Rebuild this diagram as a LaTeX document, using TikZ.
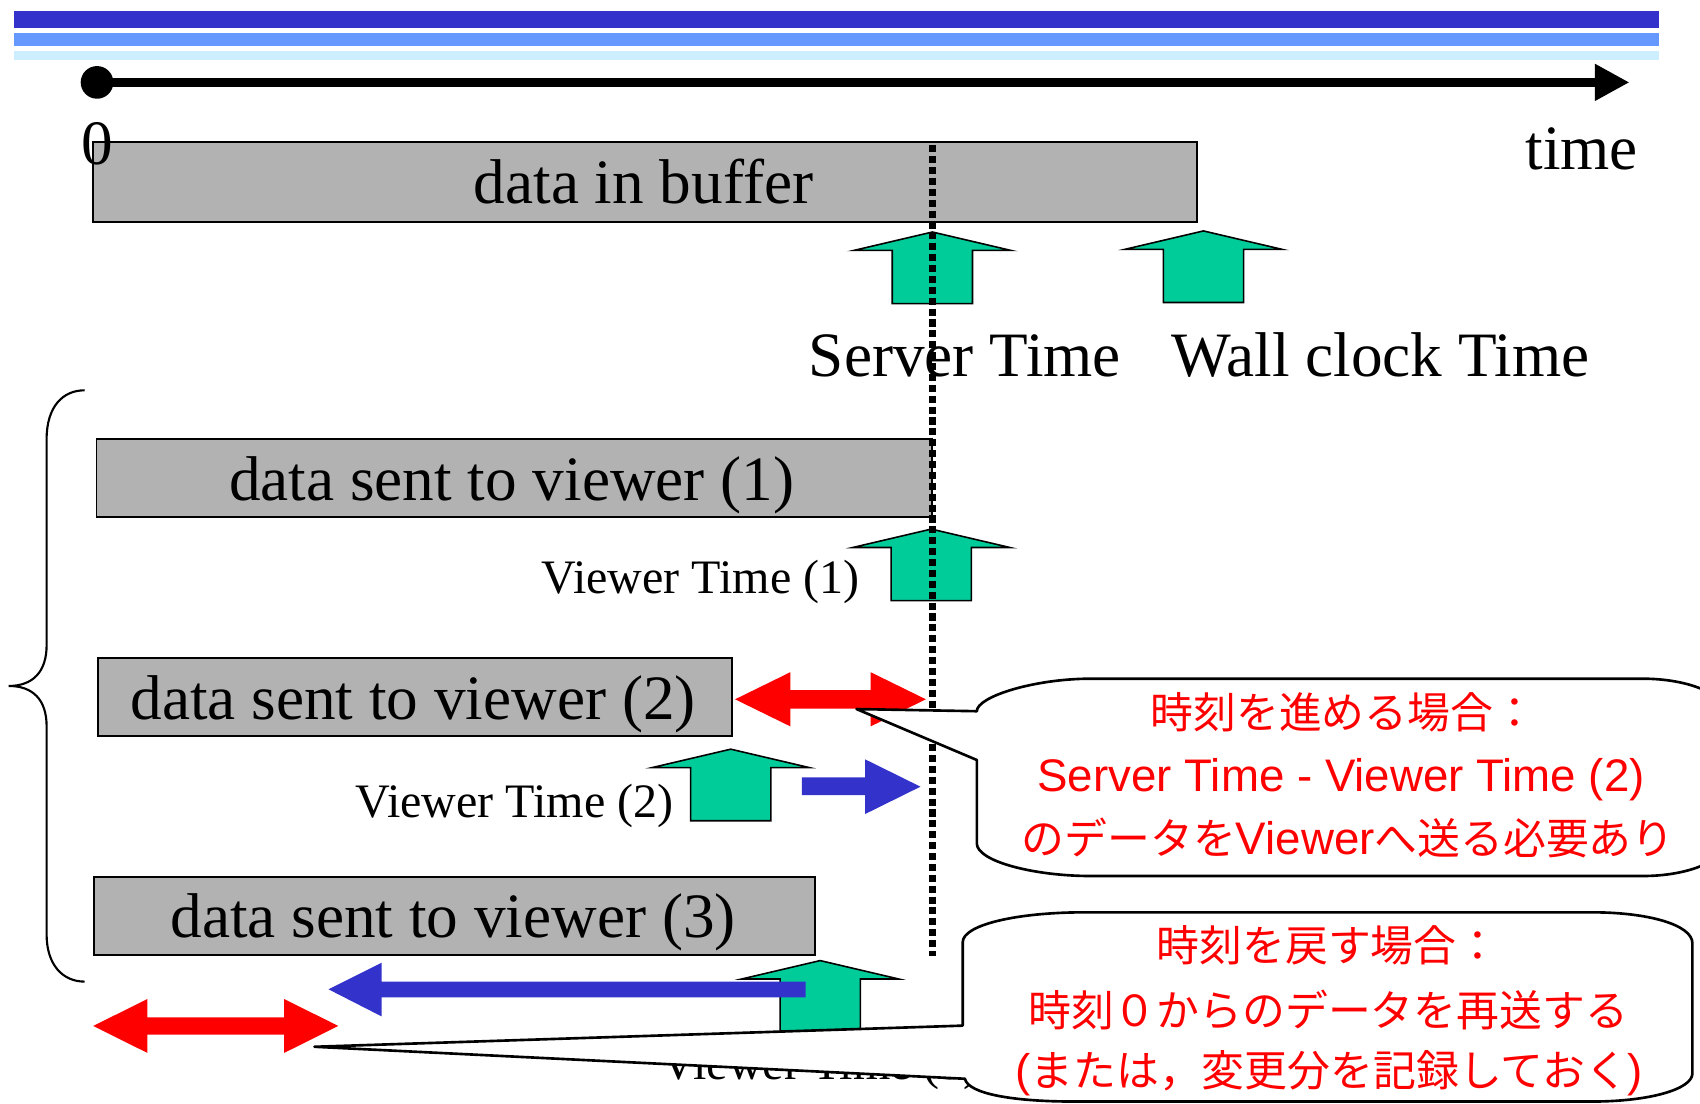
\documentclass[tikz,border=0pt]{standalone}
\usepackage{fontspec}
\setmainfont{Liberation Serif}
\newfontfamily\jpfont{Noto Sans CJK JP}
\newfontfamily\latsans{Liberation Sans}
\usetikzlibrary{arrows.meta,fit}
\definecolor{barA}{HTML}{3333CC}
\definecolor{barB}{HTML}{6699FF}
\definecolor{barC}{HTML}{CCEEFF}
\definecolor{boxgray}{HTML}{B2B2B2}
\definecolor{markgreen}{HTML}{00CC99}
\definecolor{shiftblue}{HTML}{3333CC}
\newcommand\jpt[1]{{\jpfont\fontsize{12.2}{14}\selectfont #1}}
\newcommand\lat[1]{{\latsans\fontsize{13.0}{14}\selectfont #1}}

\begin{document}
\begin{tikzpicture}[x=0.010842cm, y=-0.010842cm,
  databox/.style={draw=black, line width=0.55pt, fill=boxgray, inner sep=0pt},
  bigtxt/.style={font=\fontsize{18.0}{20}\selectfont, inner sep=0pt, anchor=base},
  vtxt/.style={font=\fontsize{13.68}{16}\selectfont, inner sep=0pt, anchor=base},
  notetxt/.style={text=red, inner sep=0pt, anchor=base},
  marker/.style={draw=black, line width=0.45pt, fill=markgreen},
  callout/.style={draw=black, line width=0.75pt, fill=white, line join=round},
  pics/upmark/.style={code={
    \path[marker] (0,0) -- (72.5,17) -- (37,17) -- (37,66) -- (-37,66)
      -- (-37,17) -- (-72.5,17) -- cycle;}},
]
\useasboundingbox (0,0) rectangle (1568,1018);
\clip (0,0) rectangle (1568,1018);

% header bars
\fill[barA] (12.5,10.1) rectangle (1530,25.5);
\fill[barB] (12.5,30.1) rectangle (1530,42.1);
\fill[barC] (12.5,46.7) rectangle (1530,55.3);

% time axis
\node[circle, fill=black, inner sep=0pt, minimum size=9.3pt] (t0) at (89.5,76) {};
\coordinate (tend) at (1503,76);
\draw[line width=2.56pt, -{Triangle[length=9.9pt,width=9.9pt]}] (t0.center) -- (tend);

% buffer
\node[databox, fit={(86,130.7) (1104,204.5)}] (buf) {};
\node[bigtxt, anchor=base west] (zero) at (74.5,152) {0};
\node[bigtxt] (buftxt) at (593.5,188) {data in buffer};
\node[bigtxt] (timetxt) at (1459,156) {time};

% time markers
\pic at (860,214) {upmark};
\pic at (1110,213) {upmark};
\node[bigtxt] (srvtxt) at (890,347) {Server Time};
\node[bigtxt] (walltxt) at (1273.5,347) {Wall clock Time};

% viewer data
\node[databox, fit={(89,405) (860,477)}] (v1) {};
\node[bigtxt] (v1txt) at (472,462) {data sent to viewer (1)};
\pic at (859,488) {upmark};
\node[vtxt] (vt1) at (646,547) {Viewer Time (1)};

\node[databox, fit={(90,607.2) (675,678.8)}] (v2) {};
\node[bigtxt] (v2txt) at (381,664) {data sent to viewer (2)};
\pic at (674,691) {upmark};
\node[vtxt] (vt2) at (474.5,754) {Viewer Time (2)};

\node[databox, fit={(87,808.6) (752,880.5)}] (v3) {};
\node[bigtxt] (v3txt) at (418,865) {data sent to viewer (3)};
\pic at (756.5,886) {upmark};

% brace grouping the viewers
\draw[line width=0.6pt] (78,360) .. controls (58,360) and (43,375) .. (43,405)
  -- (43,595) .. controls (43,620) and (30,632.7) .. (8,632.7)
  .. controls (30,632.7) and (43,645) .. (43,670)
  -- (43,862) .. controls (43,890) and (58,905.4) .. (78,905.4);

% server time line
\coordinate (dtop) at (860,134);
\coordinate (dbot) at (860,882);
\draw[line width=1.9pt, dash pattern=on 2pt off 1.1pt] (dtop) -- (dbot);

% offsets
\fill[red] (678,645) -- (729,620) -- (729,636.5) -- (803,636.5) -- (803,620)
  -- (854,645) -- (803,670) -- (803,653.5) -- (729,653.5) -- (729,670) -- cycle;
\fill[shiftblue] (739.7,717) -- (798,717) -- (798,700.4) -- (849,725.6)
  -- (798,750.8) -- (798,733.3) -- (739.7,733.3) -- cycle;
\fill[shiftblue] (303,912.5) -- (352,888) -- (352,905.4) -- (743,905.4)
  -- (743,919.9) -- (352,919.9) -- (352,937.5) -- cycle;
\fill[red] (86,946.3) -- (136,921.4) -- (136,938.3) -- (262,938.3) -- (262,921.4)
  -- (312,946.3) -- (262,971.2) -- (262,954.3) -- (136,954.3) -- (136,971.2) -- cycle;

\node[vtxt] (vt3) at (757,996) {Viewer Time (3)};

% callout: moving forward
\path[callout] (901,701) -- (790,654) -- (901,656)
  .. controls (901,642.5) and (954,626) .. (1006,626) -- (1515,626)
  .. controls (1556,626) and (1590,639.5) .. (1590,656) -- (1590,778)
  .. controls (1590,794.5) and (1556,808) .. (1515,808) -- (1006,808)
  .. controls (954,808) and (901,794.5) .. (901,778) -- cycle;
\node[notetxt] (f1) at (1239,672) {\jpt{時刻を進める場合：}};
\node[notetxt] (f2) at (1237,730) {\lat{Server Time - Viewer Time (2)}};
\node[notetxt] (f3) at (1243.5,788.5) {\jpt{のデータを}\lat{Viewer}\jpt{へ送る必要あり}};

% callout: moving back
\path[callout] (888,946) -- (290,965.5) -- (890,995)
  .. controls (893,1009) and (935,1016) .. (990,1016) -- (1469,1016)
  .. controls (1520,1016) and (1561,1005) .. (1561,990) -- (1561,870)
  .. controls (1561,853) and (1520,841.5) .. (1469,841.5) -- (1000,841.5)
  .. controls (938,841.5) and (888,853) .. (888,869) -- cycle;
\node[notetxt] (b1) at (1225,887) {\jpt{時刻を戻す場合：}};
\node[notetxt] (b2) at (1225,947) {\jpt{時刻０からのデータを再送する}};
\node[notetxt] (b3) at (1226,1002) {\lat{(}\jpt{または，変更分を記録しておく}\lat{)}};
\end{tikzpicture}
\end{document}
